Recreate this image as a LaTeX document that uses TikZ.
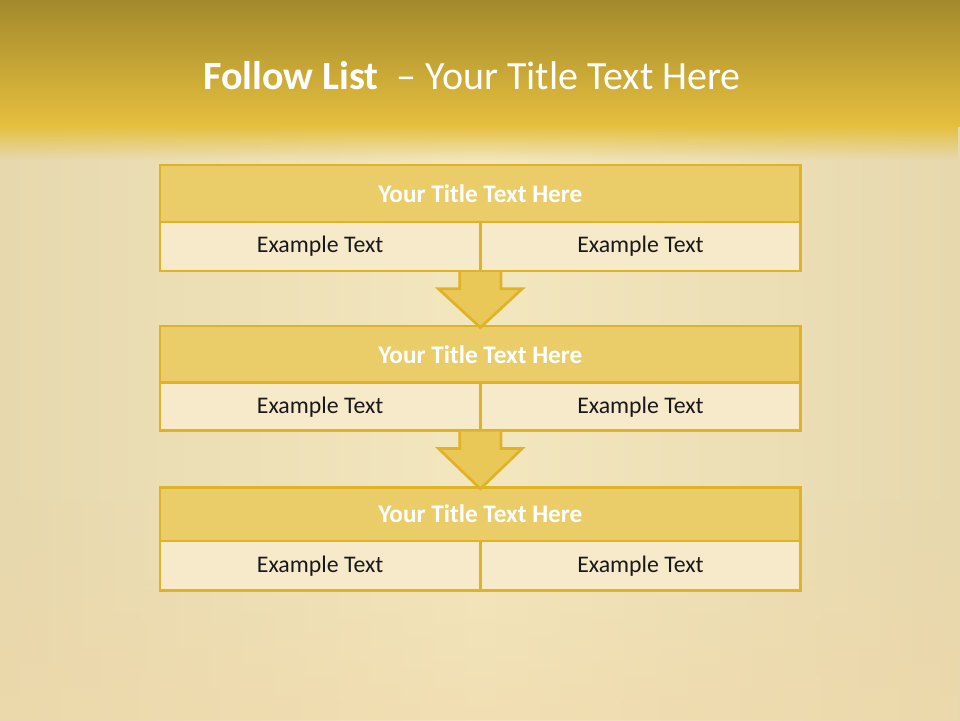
\documentclass[tikz,border=0pt]{standalone}
\usepackage{fontspec}
\setmainfont{Carlito}
\usetikzlibrary{fadings,calc}
\definecolor{bordgold}{HTML}{DFB325}
\definecolor{titlefill}{HTML}{EACD69}
\definecolor{cellfill}{HTML}{F7EACA}
\definecolor{arrowfill}{HTML}{E9C858}
\definecolor{bandtop}{HTML}{A3892C}
\definecolor{bandbot}{HTML}{E5BF3E}
\definecolor{bgmid}{HTML}{F3E7BF}
\definecolor{bgside}{HTML}{E7D8AE}
\definecolor{bgwarm}{HTML}{F0D8A8}
\tikzfading[name=fadedown, top color=transparent!0, bottom color=transparent!100]
\tikzfading[name=fadeup, top color=transparent!100, bottom color=transparent!0]
\tikzset{
  titlecell/.style={draw=bordgold, line width=2.7pt, fill=titlefill, inner sep=0pt, outer sep=0pt,
    minimum width=640.7pt, text=white, font=\fontsize{25.3}{29}\selectfont\bfseries},
  bodycell/.style={draw=bordgold, line width=2.7pt, fill=cellfill, inner sep=0pt, outer sep=0pt,
    minimum width=320.35pt, minimum height=49pt, text=black!90, font=\fontsize{23.8}{28}\selectfont},
  downarrow/.style={draw=bordgold, line width=2.7pt, fill=arrowfill, line join=miter}
}
\begin{document}
\begin{tikzpicture}[x=1pt,y=-1pt]
\useasboundingbox (0,0) rectangle (960,720);
% background
\shade[left color=bgside, right color=bgside, middle color=bgmid] (0,0) rectangle (960,720);
\fill[bgwarm, path fading=fadeup, opacity=0.5] (0,500) rectangle (960,720);
\shade[top color=bandtop, bottom color=bandbot] (0,0) rectangle (960,126);
\fill[bandbot, path fading=fadedown] (0,125) rectangle (960,160);
% title
\node[text=white, font=\fontsize{40}{46}\selectfont, anchor=base] (title) at (472,89)
  {\textbf{Follow List}\ \ – Your Title Text Here};
% box 1
\node[titlecell, minimum height=57pt, anchor=north west] (t1) at (160,165) {Your Title Text Here};
\node[bodycell, anchor=north west] (l1) at (t1.south west) {Example Text};
\node[bodycell, anchor=north east] (r1) at (t1.south east) {Example Text};
% box 2
\node[titlecell, minimum height=56.7pt, anchor=north west] (t2) at (160,326) {Your Title Text Here};
\node[bodycell, minimum height=48pt, anchor=north west] (l2) at (t2.south west) {Example Text};
\node[bodycell, minimum height=48pt, anchor=north east] (r2) at (t2.south east) {Example Text};
% box 3
\node[titlecell, minimum height=53.7pt, anchor=north west] (t3) at (160,487.3) {Your Title Text Here};
\node[bodycell, minimum height=49.7pt, anchor=north west] (l3) at (t3.south west) {Example Text};
\node[bodycell, minimum height=49.7pt, anchor=north east] (r3) at (t3.south east) {Example Text};
% arrows
\coordinate (a1s) at ($(l1.south east)+(0,1)$);
\coordinate (a1t) at ($(t2.north west)!0.5!(t2.north east)+(0,1.5)$);
\draw[downarrow] ($(a1s)+(-20.6,0)$) -- ($(a1s)+(-20.6,16.7)$) -- ($(a1s)+(-42,16.7)$) -- (a1t)
  -- ($(a1s)+(42,16.7)$) -- ($(a1s)+(20.6,16.7)$) -- ($(a1s)+(20.6,0)$);
\coordinate (a2s) at ($(l2.south east)+(0,1)$);
\coordinate (a2t) at ($(t3.north west)!0.5!(t3.north east)+(0,1.5)$);
\draw[downarrow] ($(a2s)+(-20.6,0)$) -- ($(a2s)+(-20.6,16.7)$) -- ($(a2s)+(-42,16.7)$) -- (a2t)
  -- ($(a2s)+(42,16.7)$) -- ($(a2s)+(20.6,16.7)$) -- ($(a2s)+(20.6,0)$);
\end{tikzpicture}
\end{document}
